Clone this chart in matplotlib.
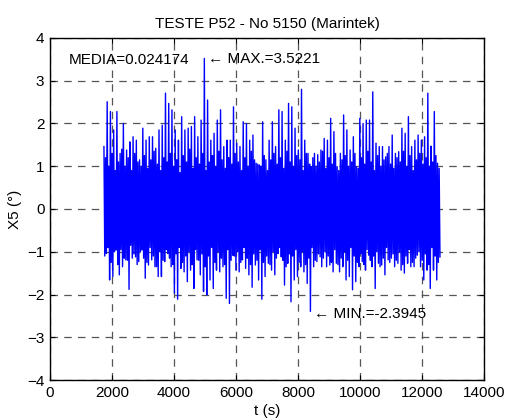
import matplotlib
matplotlib.use('Agg')
import matplotlib.pyplot as plt
import numpy as np

# sample window (s)
t_start = 1740
t_end = 12580

# large positive excursions, left to right
pos_peaks = [1.46, 2.51, 2.28, 1.85, 2.28, 1.30, 2.00, 1.38, 1.57, 1.69,
             1.61, 1.15, 1.89, 1.61, 1.69, 1.69, 1.42, 1.85, 1.96, 2.71,
             2.47, 2.32, 1.85, 1.61, 2.16, 1.85, 1.89, 1.93, 2.16, 1.69,
             2.08, 3.5221, 2.55, 1.61, 1.77, 2.08, 2.32, 1.46, 1.61, 1.61,
             2.39, 1.54, 1.46, 2.04, 2.00, 1.61, 1.73, 1.07,
             1.03, 2.04, 1.15, 1.61, 2.04, 1.46, 2.32, 2.28, 1.61, 2.47,
             2.39, 1.89, 1.38, 2.80, 1.61, 1.30, 0.99, 1.30, 1.27, 1.38,
             1.65, 1.61, 2.12, 1.81, 0.99, 1.30, 2.20, 1.85, 1.38, 1.69,
             0.99, 2.12, 2.00, 2.08, 2.08, 2.74, 1.54, 1.46, 1.46, 1.22,
             1.46, 1.73, 1.30, 1.34, 1.89, 1.77, 2.16, 1.46, 1.61, 1.73,
             1.61, 1.69, 2.71, 1.47, 2.28, 1.07]

# large negative excursions, left to right
neg_peaks = [-1.04, -1.66, -1.58, -0.96, -1.54, -1.35, -1.19, -1.88, -1.15, -1.12,
             -1.23, -0.96, -1.62, -1.31, -1.19, -1.35, -1.58, -1.58, -1.23, -1.04,
             -1.35, -1.97, -2.11, -1.39, -1.47, -1.70, -1.43, -1.86, -1.19, -1.54,
             -1.93, -2.01, -1.66, -1.86, -1.43, -1.47, -1.35, -2.09, -2.21, -1.08,
             -1.43, -1.47, -1.19, -1.39, -1.54, -1.83, -1.31, -1.66, -2.11, -1.58,
             -1.27, -1.43,
             -1.54, -1.04, -1.12, -1.78, -1.27, -2.17, -1.66, -1.58, -1.35, -1.47,
             -1.74, -2.3945, -1.35, -1.23, -1.12, -1.15, -1.35, -1.31, -1.47, -1.27,
             -1.47, -1.35, -1.66, -1.58, -1.89, -1.70, -1.35, -1.23, -1.43, -1.08,
             -1.35, -1.86, -1.27, -1.31, -1.54, -1.19, -1.15, -1.35, -1.27, -1.43,
             -1.50, -1.27, -1.35, -1.35, -1.08, -1.35, -1.66, -1.43, -1.86, -1.43,
             -1.66, -1.12]

# smaller swings that make up the dense core of the record
inner_pos = [1.2, 1.0, 1.3, 0.9, 1.1, 1.4, 1.0, 1.2, 0.9, 1.3,
             1.1, 1.0, 1.25, 0.95, 1.15, 1.35, 1.05, 0.9, 1.2, 1.1,
             1.3, 1.0, 1.15, 0.85, 1.25, 1.1, 1.4, 0.95, 1.2, 1.05,
             1.3, 0.9, 1.1, 1.25, 1.0, 1.35, 1.15, 0.95, 1.2, 1.05,
             1.3, 1.1, 0.9, 1.2, 1.0, 1.35, 1.15, 1.05,
             1.0, 1.25, 0.9, 1.15, 1.3, 1.05, 1.2, 0.95, 1.35, 1.1,
             1.0, 1.25, 1.15, 0.9, 1.3, 1.05, 1.2, 1.0, 1.1, 1.35,
             0.95, 1.2, 1.05, 1.3, 0.9, 1.15, 1.25, 1.0, 1.1, 1.3,
             0.95, 1.2, 1.05, 1.35, 1.1, 0.9, 1.25, 1.0, 1.15, 1.3,
             1.05, 0.95, 1.2, 1.1, 1.35, 1.0, 1.25, 0.9, 1.15, 1.3,
             1.05, 1.2, 1.0, 1.1, 1.25, 0.95]

inner_neg = [-1.1, -0.9, -1.25, -1.0, -1.3, -0.95, -1.15, -1.2, -0.85, -1.05,
             -1.3, -1.0, -1.15, -1.25, -0.9, -1.1, -1.35, -1.0, -1.2, -0.95,
             -1.15, -1.3, -1.05, -0.9, -1.25, -1.1, -1.0, -1.3, -0.95, -1.2,
             -1.05, -1.35, -1.1, -0.9, -1.25, -1.0, -1.15, -1.3, -0.95, -1.2,
             -1.1, -1.0, -1.25, -0.9, -1.15, -1.3, -1.05, -1.2,
             -0.95, -1.25, -1.1, -1.3, -1.0, -1.15, -0.9, -1.2, -1.35, -1.05,
             -1.1, -0.95, -1.25, -1.0, -1.3, -1.15, -0.9, -1.2, -1.05, -1.35,
             -1.0, -1.1, -1.25, -0.95, -1.3, -1.15, -1.0, -1.2, -0.9, -1.1,
             -1.25, -1.05, -1.3, -0.95, -1.2, -1.1, -1.0, -1.35, -1.15, -0.9,
             -1.25, -1.05, -1.2, -1.0, -1.3, -1.1, -0.95, -1.25, -1.15, -1.0,
             -1.2, -1.05, -1.3, -0.9, -1.1, -1.25]

media = 0.024174
x_max = 3.5221
x_min = -2.3945

x5 = np.column_stack([pos_peaks, inner_neg, inner_pos, neg_peaks]).ravel()
t = np.linspace(t_start, t_end, len(x5))
t_at_max = t[np.argmax(x5)]
t_at_min = t[np.argmin(x5)]

plt.rcParams['font.family'] = ['Liberation Sans', 'DejaVu Sans']
fs = 11

fig = plt.figure(figsize=(5.08, 4.18), dpi=100)
ax = fig.add_axes([50 / 508, 38 / 418, 434 / 508, 342 / 418])
ax.set_axisbelow(True)

ax.plot(t, x5, color='#0000ff', linewidth=1.0)

ax.set_xlim(0, 14000)
ax.set_ylim(-4, 4)
ax.set_xticks(range(0, 14001, 2000))
ax.set_yticks(range(-4, 5))

ax.grid(True, color='#555555', linestyle=(0, (6, 5)), linewidth=0.9)
ax.tick_params(direction='in', top=True, right=True, labelsize=fs, length=3.5, pad=4)
for s in ax.spines.values():
    s.set_linewidth(1.0)

ax.set_title('TESTE P52 - No 5150 (Marintek)', fontsize=fs, pad=7)
ax.set_xlabel('t (s)', fontsize=fs, labelpad=3)
ax.set_ylabel('X5 (°)', fontsize=fs, labelpad=4)

ax.text(600, 3.48, 'MEDIA=' + str(media), fontsize=fs, va='center', ha='left')
ax.text(t_at_max + 110, x_max - 0.02, '\u2190 MAX.=' + str(x_max), fontsize=fs, va='center', ha='left')
ax.text(t_at_min + 110, x_min - 0.05, '\u2190 MIN.=' + str(x_min), fontsize=fs, va='center', ha='left')

fig.savefig('out.png', dpi=100)
